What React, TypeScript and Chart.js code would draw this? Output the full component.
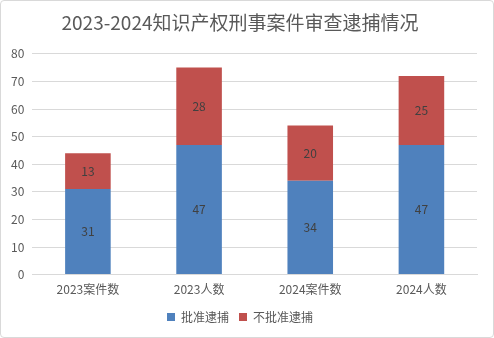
import React, { useEffect, useRef } from "react";
import { Chart, registerables } from "chart.js";

Chart.register(...registerables);

const title = "2023-2024知识产权刑事案件审查逮捕情况";
const categories = ["2023案件数", "2023人数", "2024案件数", "2024人数"];
const approved = [31, 47, 34, 47];
const notApproved = [13, 28, 20, 25];
const seriesNames = ["批准逮捕", "不批准逮捕"];
const yTicksMax = 80;
const yTickStep = 10;

const FONT = "'Microsoft YaHei', 'Noto Sans CJK SC', 'Noto Sans', sans-serif";

const labelPlugin = {
  id: "barLabels",
  afterDatasetsDraw(chart: any) {
    const ctx = chart.ctx;
    ctx.save();
    ctx.font = `12px ${FONT}`;
    ctx.fillStyle = "#404040";
    ctx.textAlign = "center";
    ctx.textBaseline = "middle";
    chart.data.datasets.forEach((ds: any, i: number) => {
      const meta = chart.getDatasetMeta(i);
      meta.data.forEach((bar: any, j: number) => {
        const p = bar.getProps(["x", "y", "base"], true);
        ctx.fillText(String(ds.data[j]), p.x, (p.y + p.base) / 2);
      });
    });
    ctx.restore();
  },
};

export default function App() {
  const ref = useRef<HTMLCanvasElement>(null);
  useEffect(() => {
    const chart = new Chart(ref.current!, {
      type: "bar",
      data: {
        labels: categories,
        datasets: [
          { label: seriesNames[0], data: approved, backgroundColor: "#4f81bd", barPercentage: 0.41, categoryPercentage: 1 },
          { label: seriesNames[1], data: notApproved, backgroundColor: "#c0504d", barPercentage: 0.41, categoryPercentage: 1 },
        ],
      },
      options: {
        animation: false,
        responsive: false,
        maintainAspectRatio: false,
        layout: { padding: { left: 2, right: 16, top: 4, bottom: 4 } },
        plugins: {
          title: {
            display: true,
            text: title,
            color: "#595959",
            font: { family: FONT, size: 19, weight: "normal" },
            padding: { top: 6, bottom: 20 },
          },
          legend: {
            position: "bottom",
            labels: {
              color: "#595959",
              font: { family: FONT, size: 12 },
              boxWidth: 8,
              boxHeight: 8,
              padding: 10,
            },
          },
          tooltip: { enabled: false },
        },
        scales: {
          x: {
            stacked: true,
            grid: { display: false },
            border: { color: "#d9d9d9" },
            ticks: { color: "#595959", font: { family: FONT, size: 12 }, padding: 0 },
            afterFit: (scale: any) => {
              scale.height += 4;
            },
          },
          y: {
            stacked: true,
            min: 0,
            max: yTicksMax,
            ticks: { stepSize: yTickStep, color: "#595959", font: { family: FONT, size: 12 }, padding: 8 },
            grid: { color: "#d9d9d9", drawTicks: false },
            border: { display: false },
          },
        },
      },
      plugins: [labelPlugin],
    });
    return () => chart.destroy();
  }, []);
  return (
    <div style={{ position: "fixed", left: 0, top: 0, width: 494, height: 338, boxSizing: "border-box", border: "1px solid #d9d9d9", borderRadius: 4, background: "#fff" }}>
      <canvas ref={ref} width={492} height={336} style={{ display: "block" }} />
    </div>
  );
}
